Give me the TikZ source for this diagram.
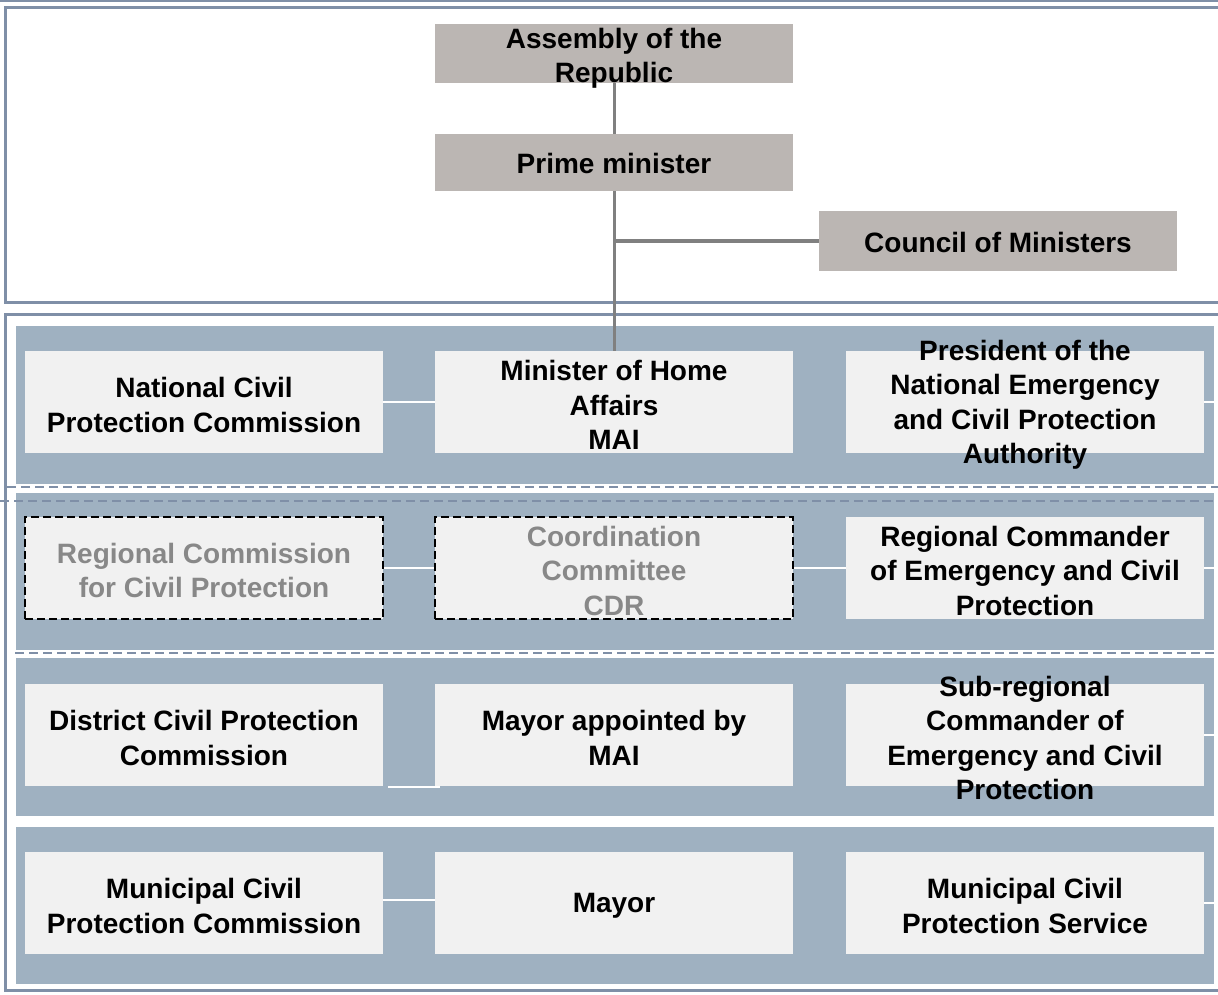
\documentclass[tikz,border=0pt]{standalone}
\usepackage{fontspec}
\setmainfont{Liberation Sans}
\definecolor{framec}{HTML}{7F8FA7}
\definecolor{bandc}{HTML}{9FB1C1}
\definecolor{boxfill}{HTML}{F1F1F1}
\definecolor{topfill}{HTML}{BBB6B3}
\definecolor{linkgray}{HTML}{808080}
\definecolor{fadetext}{HTML}{888888}
\tikzset{
 lbl/.style={font=\fontsize{28}{34.5}\selectfont\bfseries, align=center, inner sep=0pt, text=black},
 topbox/.style={lbl, fill=topfill, minimum width=358pt},
 unitbox/.style={fill=boxfill, minimum width=358pt, minimum height=102pt, inner sep=0pt},
 optbox/.style={unitbox, draw=black, line width=2pt, dash pattern=on 8pt off 4pt},
 fadelbl/.style={lbl, text=fadetext},
 frameline/.style={draw=framec, line width=3pt},
 bandbox/.style={fill=bandc, draw=white, line width=0.8pt},
 sepline/.style={draw=framec, line width=2pt, dash pattern=on 9pt off 5pt},
 graylink/.style={draw=linkgray, line width=3pt},
 whitelink/.style={draw=white, line width=2pt},
}
% box node (fixed size) plus its text node on top
\newcommand{\unitnode}[5]{%
  \node[#3] (#1) at (#2) {};
  \node[#4, yshift=-3pt] (#1-t) at (#1) {#5};
}
\begin{document}
\begin{tikzpicture}[x=1pt,y=-1pt]
\useasboundingbox (0,0) rectangle (1218,995);
\clip (0,0) rectangle (1218,995);
% frames
\draw[frameline] (-10,1) -- (1230,1);
\draw[frameline] (1230,7.5) -- (5.5,7.5) -- (5.5,302.5) -- (1230,302.5);
\draw[frameline] (1230,314.5) -- (5.5,314.5) -- (5.5,990.5) -- (1230,990.5);
% bands
\path[bandbox] (15,325) rectangle (1214,484);
\path[bandbox] (15,492) rectangle (1214,650);
\path[bandbox] (15,657) rectangle (1214,816);
\path[bandbox] (15,826) rectangle (1214,984);
% separators
\draw[sepline] (7,487) -- (1230,487);
\draw[sepline] (0,501) -- (1230,501);
\draw[sepline] (15,653) -- (1230,653);
% top section
\node[topbox, minimum height=59pt] (assembly) at (614,53.5) {};
\node[lbl, yshift=-5pt] (assembly-t) at (assembly) {Assembly of the\\Republic};
\node[topbox, minimum height=57pt] (pm) at (614,162.5) {};
\node[lbl, yshift=-1pt] (pm-t) at (pm) {Prime minister};
\node[topbox, minimum height=60pt] (council) at (998,241) {};
\node[lbl, yshift=-1pt] (council-t) at (council) {Council of Ministers};
% rows
\unitnode{ncpc}{204,402}{unitbox}{lbl}{National Civil\\Protection Commission}
\unitnode{mai}{614,402}{unitbox}{lbl}{Minister of Home\\Affairs\\MAI}
\unitnode{pres}{1025,402}{unitbox}{lbl}{President of the\\National Emergency\\and Civil Protection\\Authority}
\unitnode{rccp}{204,567.5}{optbox}{fadelbl}{Regional Commission\\for Civil Protection}
\unitnode{cdr}{614,567.5}{optbox}{fadelbl}{Coordination\\Committee\\CDR}
\unitnode{rcec}{1025,567.5}{unitbox}{lbl}{Regional Commander\\of Emergency and Civil\\Protection}
\unitnode{dcpc}{204,735}{unitbox}{lbl}{District Civil Protection\\Commission}
\unitnode{mayapp}{614,735}{unitbox}{lbl}{Mayor appointed by\\MAI}
\unitnode{srcec}{1025,735}{unitbox}{lbl}{Sub-regional\\Commander of\\Emergency and Civil\\Protection}
\unitnode{mcpc}{204,903}{unitbox}{lbl}{Municipal Civil\\Protection Commission}
\unitnode{mayor}{614,903}{unitbox}{lbl}{Mayor}
\unitnode{mcps}{1025,903}{unitbox}{lbl}{Municipal Civil\\Protection Service}
% gray connectors
\draw[graylink] (assembly) -- (pm);
\draw[graylink] (pm) -- (mai);
\coordinate (junc) at (pm.south |- council.west);
\draw[graylink] (junc) -- (council);
% white connectors
\draw[whitelink] (ncpc) -- (mai);
\draw[whitelink] (rccp) -- (cdr);
\draw[whitelink] (cdr) -- (rcec);
\draw[whitelink] ([shift={(5,1)}]dcpc.south east) -- ([shift={(5,1)}]mayapp.south west);
\draw[whitelink] ([yshift=3pt]mcpc.east) -- ([yshift=3pt]mayor.west);
\coordinate (e1) at (1218,402);
\coordinate (e2) at (1216,567.5);
\coordinate (e3) at (1214,735);
\coordinate (e4) at (1214,903);
\draw[whitelink] (pres) -- (e1);
\draw[whitelink] (rcec) -- (e2);
\draw[whitelink] (srcec) -- (e3);
\draw[whitelink] (mcps) -- (e4);
\end{tikzpicture}
\end{document}
